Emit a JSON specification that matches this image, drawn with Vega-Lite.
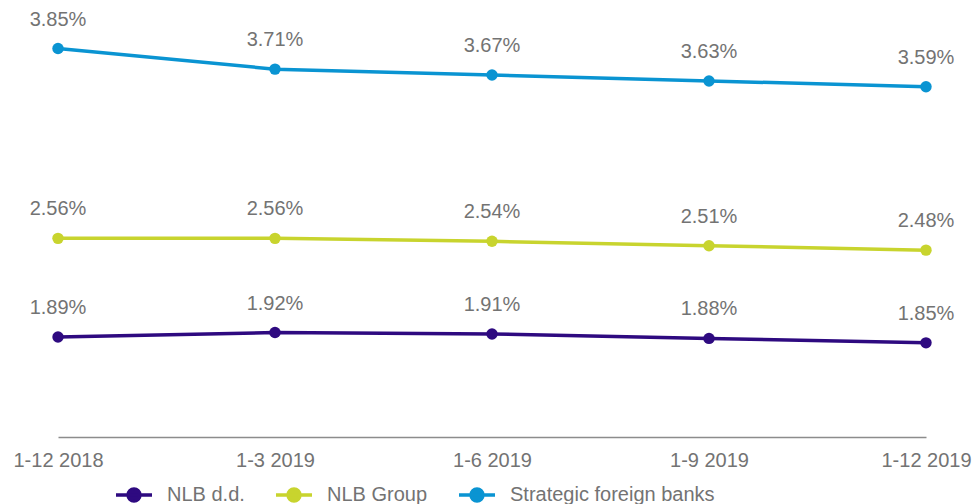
{
  "$schema": "https://vega.github.io/schema/vega-lite/v6.json",
  "width": 868,
  "height": 437,
  "autosize": {"type": "none"},
  "padding": {"left": 58, "top": 0, "right": 50, "bottom": 67},
  "background": "white",
  "config": {
    "view": {"stroke": null},
    "font": "Liberation Sans",
    "axis": {"labelFont": "Liberation Sans"},
    "legend": {"labelFont": "Liberation Sans"}
  },
  "data": {
    "values": [
      {"period": "1-12 2018", "series": "NLB d.d.", "value": 0.0189},
      {"period": "1-3 2019", "series": "NLB d.d.", "value": 0.0192},
      {"period": "1-6 2019", "series": "NLB d.d.", "value": 0.0191},
      {"period": "1-9 2019", "series": "NLB d.d.", "value": 0.0188},
      {"period": "1-12 2019", "series": "NLB d.d.", "value": 0.0185},
      {"period": "1-12 2018", "series": "NLB Group", "value": 0.0256},
      {"period": "1-3 2019", "series": "NLB Group", "value": 0.0256},
      {"period": "1-6 2019", "series": "NLB Group", "value": 0.0254},
      {"period": "1-9 2019", "series": "NLB Group", "value": 0.0251},
      {"period": "1-12 2019", "series": "NLB Group", "value": 0.0248},
      {"period": "1-12 2018", "series": "Strategic foreign banks", "value": 0.0385},
      {"period": "1-3 2019", "series": "Strategic foreign banks", "value": 0.0371},
      {"period": "1-6 2019", "series": "Strategic foreign banks", "value": 0.0367},
      {"period": "1-9 2019", "series": "Strategic foreign banks", "value": 0.0363},
      {"period": "1-12 2019", "series": "Strategic foreign banks", "value": 0.0359}
    ]
  },
  "encoding": {
    "x": {
      "field": "period",
      "type": "ordinal",
      "sort": ["1-12 2018", "1-3 2019", "1-6 2019", "1-9 2019", "1-12 2019"],
      "scale": {"type": "point", "padding": 0},
      "axis": {
        "title": null,
        "labelAngle": 0,
        "labelFontSize": 20,
        "labelColor": "#737373",
        "labelPadding": 13,
        "ticks": false,
        "domainColor": "#8c8c8c",
        "domainWidth": 1.5,
        "grid": false
      }
    },
    "y": {
      "field": "value",
      "type": "quantitative",
      "scale": {"domain": [0.0121, 0.0418], "zero": false, "nice": false},
      "axis": null
    },
    "color": {
      "field": "series",
      "type": "nominal",
      "scale": {
        "domain": ["NLB d.d.", "NLB Group", "Strategic foreign banks"],
        "range": ["#2e0a80", "#c8d42e", "#0a94d2"]
      },
      "legend": {
        "title": null,
        "orient": "none",
        "direction": "horizontal",
        "legendX": 56,
        "legendY": 475,
        "labelFontSize": 20,
        "labelColor": "#737373",
        "labelOffset": 13,
        "labelLimit": 0,
        "columnPadding": 24,
        "symbolType": "M-1,0H1M-0.33,0A0.33,0.33,0,1,0,0.33,0A0.33,0.33,0,1,0,-0.33,0Z",
        "symbolSize": 1296,
        "symbolStrokeWidth": 3.5
      }
    }
  },
  "layer": [
    {"mark": {"type": "line", "strokeWidth": 3.5}},
    {"mark": {"type": "point", "filled": true, "size": 130, "opacity": 1}},
    {
      "mark": {"type": "text", "dy": -29, "fontSize": 20, "color": "#737373"},
      "encoding": {
        "text": {"field": "value", "type": "quantitative", "format": ".2%"},
        "color": {"value": "#737373"}
      }
    }
  ]
}
